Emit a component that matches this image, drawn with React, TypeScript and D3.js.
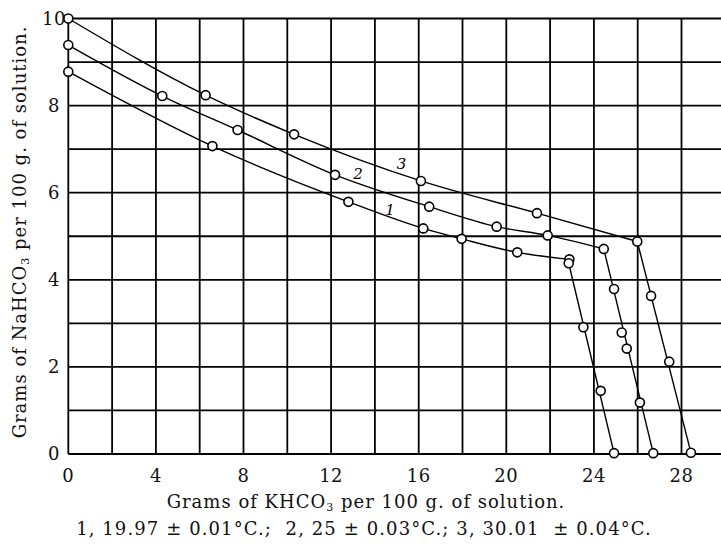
import React from 'react';
import * as d3 from 'd3';

// curve 1: 19.97 C, curve 2: 25 C, curve 3: 30.01 C
// upper branch (NaHCO3 solid phase)
const upper1: [number, number][] = [
  [0, 8.78], [6.58, 7.07], [12.79, 5.79], [16.21, 5.18], [17.96, 4.94], [20.5, 4.63], [22.88, 4.47],
];
const upper2: [number, number][] = [
  [0, 9.39], [4.29, 8.22], [7.73, 7.44], [12.18, 6.41], [16.48, 5.68], [19.56, 5.22], [21.89, 5.02], [24.45, 4.71],
];
const upper3: [number, number][] = [
  [0, 10.0], [6.27, 8.24], [10.31, 7.34], [16.1, 6.27], [21.4, 5.53], [25.98, 4.88],
];
// lower branch (KHCO3 solid phase)
const lower1: [number, number][] = [
  [22.85, 4.38], [23.52, 2.91], [24.31, 1.45], [24.92, 0.02],
];
const lower2: [number, number][] = [
  [24.45, 4.71], [24.92, 3.79], [25.27, 2.79], [25.5, 2.42], [26.1, 1.18], [26.71, 0.02],
];
const lower3: [number, number][] = [
  [25.98, 4.88], [26.61, 3.63], [27.44, 2.12], [28.43, 0.03],
];

const curveNames = ['1', '2', '3'];
const labelPos: [number, number][] = [[14.69, 5.6], [13.23, 6.43], [15.22, 6.67]];

const xTicks = [0, 4, 8, 12, 16, 20, 24, 28];
const yTicks = [0, 2, 4, 6, 8, 10];
const xGrid = d3.range(0, 31, 2);
const yGrid = d3.range(0, 11, 1);

const W = 721;
const H = 544;
const font = '"DejaVu Serif", serif';

const App: React.FC = () => {
  const x = d3.scaleLinear().domain([0, 30]).range([68.3, 68.3 + 30 * 21.9]);
  const y = d3.scaleLinear().domain([0, 10]).range([454, 18.5]);

  const smooth = d3.line<[number, number]>()
    .x(d => x(d[0]))
    .y(d => y(d[1]))
    .curve(d3.curveMonotoneX);
  const straight = d3.line<[number, number]>()
    .x(d => x(d[0]))
    .y(d => y(d[1]));

  const uppers = [upper1, upper2, upper3];
  const lowers = [lower1, lower2, lower3];

  return (
    <svg width={W} height={H} style={{ position: 'absolute', left: 0, top: 0, background: '#fff' }}>
      {/* grid */}
      <g stroke="#000" strokeWidth={1.8}>
        {xGrid.map(v => (
          <line key={'gx' + v} x1={x(v)} x2={x(v)} y1={y(10)} y2={y(0)} />
        ))}
        {yGrid.map(v => (
          <line key={'gy' + v} x1={x(0)} x2={W} y1={y(v)} y2={y(v)} />
        ))}
      </g>

      {/* curves */}
      <g fill="none" stroke="#000" strokeWidth={1.4}>
        {uppers.map((d, i) => <path key={'u' + i} d={smooth(d) || ''} />)}
        {lowers.map((d, i) => (
          <path key={'l' + i} d={straight([d[0], d[d.length - 1]]) || ''} />
        ))}
      </g>

      {/* points */}
      <g fill="#fff" stroke="#000" strokeWidth={1.6}>
        {[...upper1, ...lower1, ...upper2, ...lower2.slice(1), ...upper3, ...lower3.slice(1)].map((d, i) => (
          <circle key={'p' + i} cx={x(d[0])} cy={y(d[1])} r={4.5} />
        ))}
      </g>

      {/* curve numbers */}
      <g fontFamily={font} fontStyle="italic" fontSize={15} textAnchor="middle">
        {curveNames.map((n, i) => (
          <text key={'n' + n} x={x(labelPos[i][0])} y={y(labelPos[i][1])} dy="0.35em">{n}</text>
        ))}
      </g>

      {/* tick labels */}
      <g fontFamily={font} fontSize={18} letterSpacing={0.5} textAnchor="middle" fill="#111">
        {xTicks.map(v => (
          <text key={'tx' + v} x={x(v)} y={482}>{v}</text>
        ))}
        {yTicks.map(v => (
          <text key={'ty' + v} x={54} y={y(v)} dy="0.35em">{v}</text>
        ))}
      </g>

      {/* axis titles */}
      <g fontFamily={font} fontSize={18} letterSpacing={1} textAnchor="middle" fill="#111">
        <text x={366} y={508}>
          Grams of KHCO<tspan fontSize={11} dy={3}>3</tspan><tspan dy={-3}> per 100 g. of solution.</tspan>
        </text>
        <text transform="translate(26,232) rotate(-90)">
          Grams of NaHCO<tspan fontSize={11} dy={3}>3</tspan><tspan dy={-3}> per 100 g. of solution.</tspan>
        </text>
        <text x={364} y={535} letterSpacing={1.1} style={{ whiteSpace: 'pre' }}>
          {'1, 19.97 ± 0.01°C.;  2, 25 ± 0.03°C.; 3, 30.01  ± 0.04°C.'}
        </text>
      </g>
    </svg>
  );
};

export default App;
